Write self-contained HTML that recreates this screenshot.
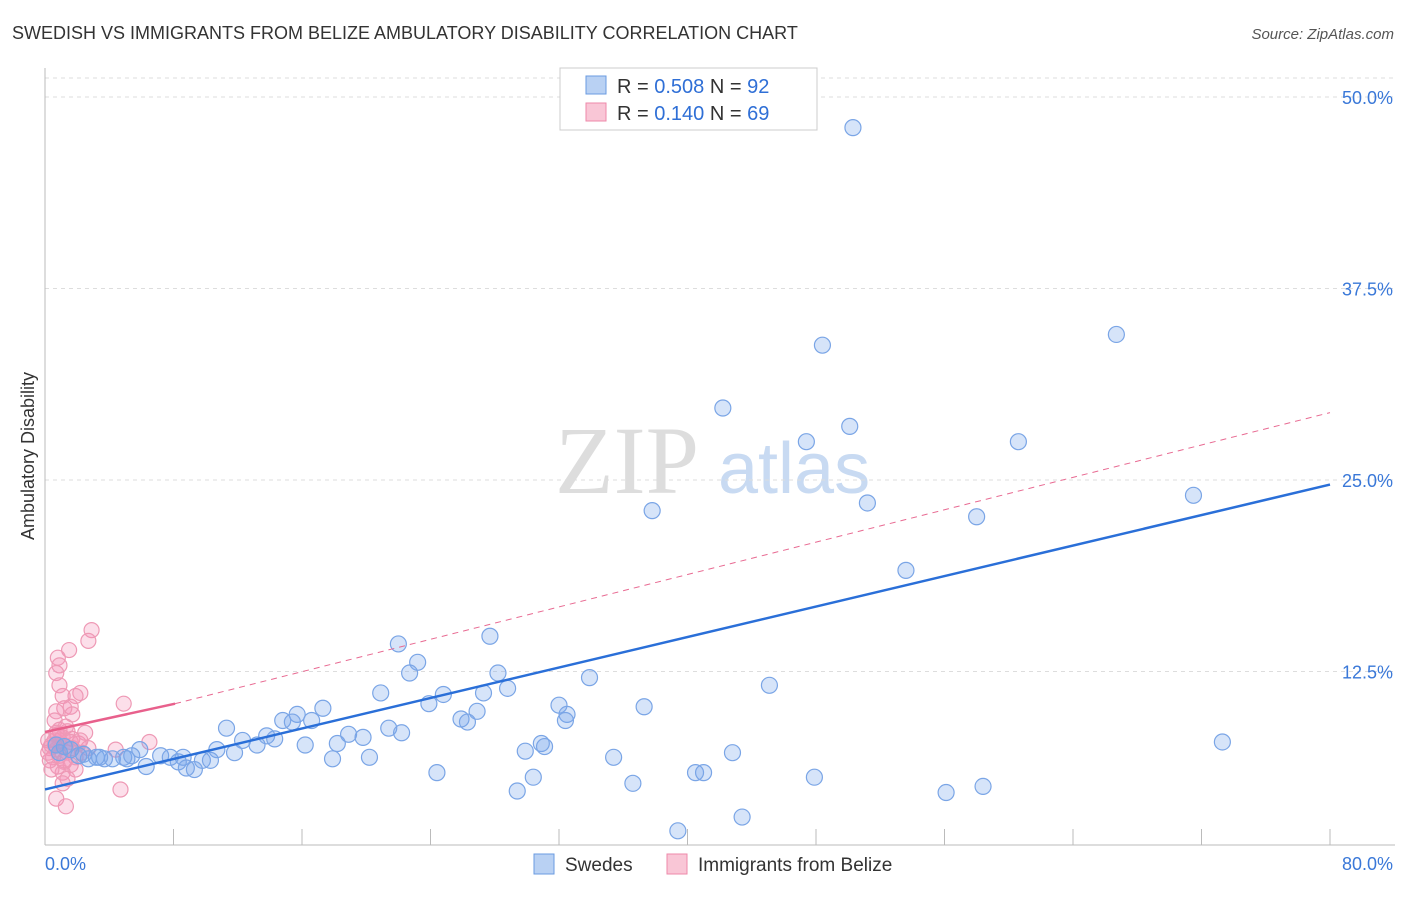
<!DOCTYPE html>
<html><head><meta charset="utf-8"><style>
body{margin:0;background:#fff;font-family:"Liberation Sans",sans-serif;}
</style></head><body>
<svg id="chart" width="1406" height="892" xmlns="http://www.w3.org/2000/svg">
<text x="12" y="39" font-size="18" fill="#333">SWEDISH VS IMMIGRANTS FROM BELIZE AMBULATORY DISABILITY CORRELATION CHART</text>
<text x="1394" y="39" font-size="15" fill="#555" font-style="italic" text-anchor="end">Source: ZipAtlas.com</text>
<text transform="translate(34,456) rotate(-90)" font-size="18" fill="#333" text-anchor="middle">Ambulatory Disability</text>
<text x="555" y="493" font-size="96" fill="#ddd" font-family="Liberation Serif,serif">ZIP</text>
<text x="718" y="493" font-size="72" fill="#c8daf2">atlas</text>
<g id="grid"></g><g id="axes"></g><g id="marks"></g>
<g>
<rect x="560" y="68" width="257" height="62" fill="#fff" stroke="#ccc"/>
<rect x="586" y="76" width="20" height="18" fill="#b9d1f3" stroke="#6a9be0"/>
<text x="617" y="93" font-size="20" fill="#333">R = <tspan fill="#2f6fd6">0.508</tspan>   N = <tspan fill="#2f6fd6">92</tspan></text>
<rect x="586" y="103" width="20" height="18" fill="#f9c6d6" stroke="#ee88aa"/>
<text x="617" y="120" font-size="20" fill="#333">R =  <tspan fill="#2f6fd6">0.140</tspan>   N = <tspan fill="#2f6fd6">69</tspan></text>
</g>
<g>
<rect x="534" y="854" width="20" height="20" fill="#b9d1f3" stroke="#6a9be0"/>
<text x="565" y="871" font-size="19" fill="#333">Swedes</text>
<rect x="667" y="854" width="20" height="20" fill="#f9c6d6" stroke="#ee88aa"/>
<text x="698" y="871" font-size="19" fill="#333">Immigrants from Belize</text>
</g>
</svg>
<script>
const yTicks=[12.5,25,37.5,50];
const yTickLabels=["12.5%","25.0%","37.5%","50.0%"];
const xTicks=[0,8,16,24,32,40,48,56,64,72,80];
const xEndLabels=["0.0%","80.0%"];
const swedesX=[50.3,48.4,66.7,42.2,47.4,50.1,60.6,37.8,51.2,58.0,71.5,53.6,22.0,27.7,23.2,22.7,28.2,33.9,45.1,20.9,24.8,27.3,28.8,23.9,17.3,32.0,37.3,26.9,15.7,25.9,32.5,26.3,14.8,15.4,16.6,32.4,11.3,21.4,22.2,18.9,19.8,13.8,12.3,14.3,13.2,16.2,18.2,30.9,31.1,29.9,42.8,10.7,11.8,5.9,7.2,8.6,7.8,35.4,73.3,17.9,20.2,9.8,10.3,8.3,6.3,8.8,9.3,4.9,4.2,3.2,2.7,2.1,1.6,0.9,3.7,5.1,24.4,30.4,41.0,40.5,47.9,36.6,29.4,56.1,58.4,39.4,43.4,5.4,1.2,3.4,0.7,2.4];
const swedesY=[48.0,33.8,34.5,29.7,27.5,28.5,27.5,23.0,23.5,22.6,24.0,19.1,14.3,14.8,13.1,12.4,12.4,12.1,11.6,11.1,11.0,11.1,11.4,10.4,10.1,10.3,10.2,9.9,9.7,9.4,9.7,9.2,9.3,9.2,9.3,9.3,8.8,8.8,8.5,8.4,8.2,8.3,8.0,8.1,7.7,7.7,7.8,7.8,7.6,7.3,7.2,7.4,7.2,7.4,7.0,6.9,6.9,6.9,7.9,6.8,6.9,6.7,6.7,6.6,6.3,6.2,6.1,6.9,6.8,6.9,6.8,7.0,7.4,7.2,6.8,6.8,5.9,5.6,5.9,5.9,5.6,5.2,4.7,4.6,5.0,2.1,3.0,7.0,7.6,6.9,7.7,7.1];
const belizeX=[2.9,2.7,1.5,0.8,0.9,0.7,0.9,2.2,1.9,1.1,4.9,1.6,1.2,0.7,1.7,0.6,2.5,1.4,0.9,6.5,4.4,0.6,0.4,1.1,1.7,2.1,1.3,0.7,0.3,0.9,1.4,1.9,0.5,1.2,1.6,0.8,1.1,4.7,0.7,1.3,0.2,0.3,2.3,2.7,0.7,1.3,0.9,1.7,1.2,1.9,1.4,1.1,0.6,0.8,1.6,2.2,0.2,0.4];
const belizeY=[15.2,14.5,13.9,13.4,12.9,12.4,11.6,11.1,10.9,10.9,10.4,10.2,10.1,9.9,9.7,9.3,8.5,8.6,8.7,7.9,7.4,8.0,7.7,8.2,8.1,7.8,7.6,7.4,7.5,7.0,7.2,6.9,6.9,6.6,6.4,6.3,5.9,4.8,4.2,3.7,8.0,6.7,7.2,7.5,8.5,8.9,8.0,7.5,6.7,6.1,5.5,5.2,7.7,8.4,7.9,8.0,7.2,6.1];
const swedesTrend=[[0,4.8],[80,24.7]];
const belizeTrendSolid=[[0,8.55],[8.1,10.4]];
const belizeTrendDashed=[[8.1,10.4],[80,29.4]];

const X0=45,X1=1330,Y0=863,PER=191.5/12.5;
const sx=v=>X0+(v/80)*(X1-X0);
const sy=v=>Y0-v*PER;
const NS="http://www.w3.org/2000/svg";
function mk(tag,attrs,parent){const e=document.createElementNS(NS,tag);for(const k in attrs)e.setAttribute(k,attrs[k]);parent.appendChild(e);return e;}
const grid=document.getElementById('grid'),axes=document.getElementById('axes'),marks=document.getElementById('marks');
let g=mk('line',{x1:45,x2:1395,y1:78,y2:78,stroke:'#ddd','stroke-dasharray':'4,4'},grid);


yTicks.forEach((t,i)=>{
 const l=mk('line',{x1:45,x2:1395,y1:sy(t),y2:sy(t),stroke:'#ddd','stroke-dasharray':'4,4'},grid);
 
 
 const tx=mk('text',{x:1393,y:sy(t)+7,'font-size':18,fill:'#3a78d8','text-anchor':'end'},axes);
 tx.textContent=yTickLabels[i];
 
 
});
let a=mk('line',{x1:45,x2:45,y1:68,y2:845,stroke:'#bbb'},axes);


a=mk('line',{x1:45,x2:1395,y1:845,y2:845,stroke:'#bbb'},axes);


xTicks.forEach(t=>{
 const l=mk('line',{x1:sx(t),x2:sx(t),y1:829,y2:845,stroke:'#bbb'},axes);
 
 
});
let xl=mk('text',{x:45,y:870,'font-size':18,fill:'#3a78d8'},axes);xl.textContent=xEndLabels[0];


xl=mk('text',{x:1393,y:870,'font-size':18,fill:'#3a78d8','text-anchor':'end'},axes);xl.textContent=xEndLabels[1];


belizeX.forEach((x,i)=>{
 const c=mk('circle',{cx:sx(x),cy:sy(belizeY[i]),r:7.5,fill:'rgba(244,150,185,0.3)',stroke:'#ee99b5','stroke-width':1.2},marks);
 
 
});
swedesX.forEach((x,i)=>{
 const c=mk('circle',{cx:sx(x),cy:sy(swedesY[i]),r:8,fill:'rgba(120,165,235,0.3)',stroke:'#7aa5e6','stroke-width':1.2},marks);
 
 
});
let t=mk('line',{x1:sx(belizeTrendDashed[0][0]),y1:sy(belizeTrendDashed[0][1]),x2:sx(belizeTrendDashed[1][0]),y2:sy(belizeTrendDashed[1][1]),stroke:'#e86a92','stroke-width':1,'stroke-dasharray':'6,5'},marks);


t=mk('line',{x1:sx(belizeTrendSolid[0][0]),y1:sy(belizeTrendSolid[0][1]),x2:sx(belizeTrendSolid[1][0]),y2:sy(belizeTrendSolid[1][1]),stroke:'#e8608c','stroke-width':2.5},marks);


t=mk('line',{x1:sx(swedesTrend[0][0]),y1:sy(swedesTrend[0][1]),x2:sx(swedesTrend[1][0]),y2:sy(swedesTrend[1][1]),stroke:'#2a6fd8','stroke-width':2.5},marks);


</script>
</body></html>
